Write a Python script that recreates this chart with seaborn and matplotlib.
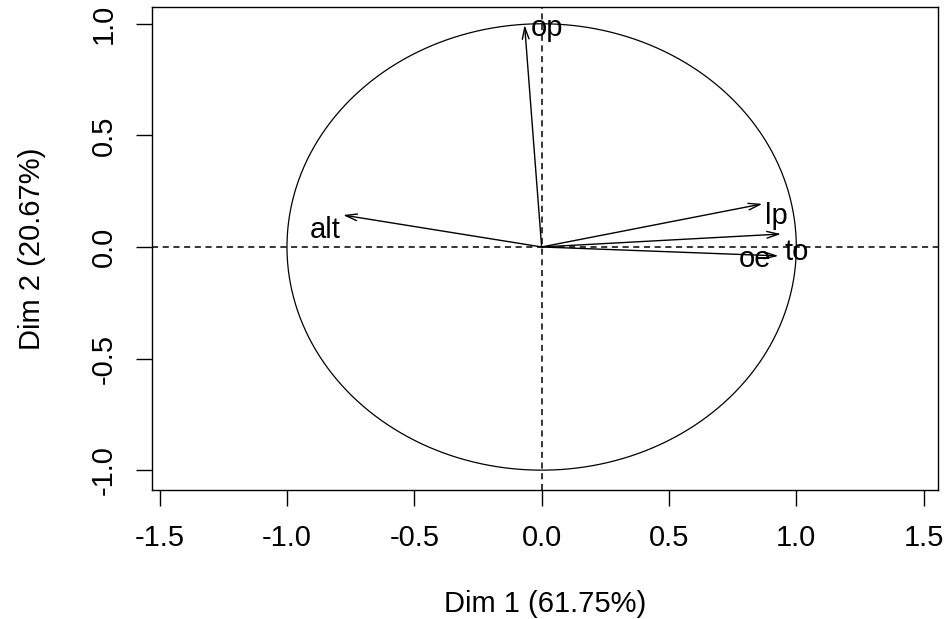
import numpy as np
import pandas as pd
import seaborn as sns
import matplotlib.pyplot as plt

# Variable coordinates on the first two dimensions
variables = ["op", "alt", "lp", "to", "oe"]
dim1 = [-0.067, -0.78, 0.867, 0.94, 0.93]
dim2 = [0.995, 0.143, 0.193, 0.058, -0.04]

x_ticks = [-1.5, -1.0, -0.5, 0.0, 0.5, 1.0, 1.5]
y_ticks = [-1.0, -0.5, 0.0, 0.5, 1.0]

coords = pd.DataFrame({"var": variables, "Dim1": dim1, "Dim2": dim2})

sns.set_theme(style="white")
plt.rcParams["font.family"] = ["Liberation Sans", "DejaVu Sans"]

fig = plt.figure(figsize=(9.5, 6.19), dpi=100)
ax = fig.add_axes([0.16, 0.208, 0.827, 0.781])

# unit circle
theta = np.linspace(0, 2 * np.pi, 400)
circle = pd.DataFrame({"x": np.cos(theta), "y": np.sin(theta)})
ax.plot(circle.x, circle.y, color="black", lw=0.9)

ax.axhline(0, color="black", lw=1.1, ls=(0, (4, 3)))
ax.axvline(0, color="black", lw=1.1, ls=(0, (4, 3)))

# arrows from origin
for _, r in coords.iterrows():
    ax.annotate("", xy=(r.Dim1, r.Dim2), xytext=(0, 0),
                arrowprops=dict(arrowstyle="->,head_length=0.7,head_width=0.2",
                                color="black", lw=1.0, shrinkA=0, shrinkB=0))

# label offsets (points) relative to arrow tips
offsets = {"op": (16, -2), "alt": (-13, -11), "lp": (10, -9), "to": (11, -13), "oe": (-17, -2)}
for _, r in coords.iterrows():
    dx, dy = offsets[r["var"]]
    ax.annotate(r["var"], xy=(r.Dim1, r.Dim2), xytext=(dx, dy), textcoords="offset points",
                ha="center", va="center", fontsize=21, color="black")

ax.set_xlim(-1.53, 1.555)
ax.set_ylim(-1.09, 1.076)
ax.set_xticks(x_ticks)
ax.set_xticklabels([f"{v:.1f}" for v in x_ticks])
ax.set_yticks(y_ticks)
ax.set_yticklabels([f"{v:.1f}" for v in y_ticks], rotation=90, va="center")
ax.tick_params(axis="both", direction="out", length=11.5, width=1, labelsize=21,
               bottom=True, left=True, pad=13, colors="black")
for s in ax.spines.values():
    s.set_color("black")
    s.set_linewidth(1.0)

ax.set_xlabel("Dim 1 (61.75%)", fontsize=21, labelpad=27, color="black")
ax.set_ylabel("Dim 2 (20.67%)", fontsize=21, labelpad=32, color="black")

fig.savefig("out.png", dpi=100)
